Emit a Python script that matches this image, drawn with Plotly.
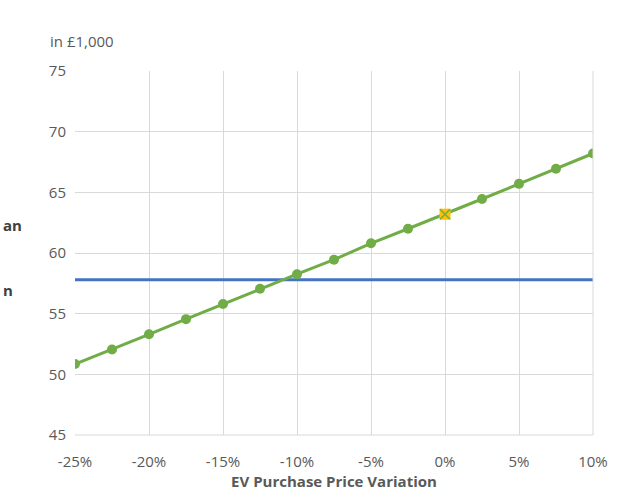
import plotly.graph_objects as go

# EV purchase price variation (%) and resulting cost (in £1,000)
price_variation = [-25, -22.5, -20, -17.5, -15, -12.5, -10, -7.5, -5, -2.5, 0, 2.5, 5, 7.5, 10]
ev_cost = [50.85, 52.05, 53.3, 54.55, 55.8, 57.05, 58.25, 59.45, 60.8, 62.0, 63.2, 64.45, 65.7, 66.95, 68.2]
diesel_cost = 57.8
base_point = 0
x_ticks = [-25, -20, -15, -10, -5, 0, 5, 10]
x_tick_text = ["-25%", "-20%", "-15%", "-10%", "-5%", "0%", "5%", "10%"]
y_ticks = [45, 50, 55, 60, 65, 70, 75]

GREEN = "#70AD47"
BLUE = "#4472C4"
GOLD = "#FFC000"
GRID = "#D9D9D9"
TXT = "#595959"
FONT = "Open Sans"

fig = go.Figure()

# Diesel reference line across the full range
fig.add_trace(go.Scatter(
    x=[price_variation[0], price_variation[-1]], y=[diesel_cost, diesel_cost],
    mode="lines", line=dict(color=BLUE, width=3), showlegend=False, hoverinfo="skip"))

# EV cost curve
fig.add_trace(go.Scatter(
    x=price_variation, y=ev_cost, mode="lines+markers",
    line=dict(color=GREEN, width=3),
    marker=dict(color=GREEN, size=10), showlegend=False))

# Base case highlight
base_idx = price_variation.index(base_point)
fig.add_trace(go.Scatter(
    x=[base_point], y=[ev_cost[base_idx]], mode="markers",
    marker=dict(symbol="square", color=GOLD, size=11, line=dict(color=GOLD, width=0)),
    showlegend=False, hoverinfo="skip"))
fig.add_trace(go.Scatter(
    x=[base_point], y=[ev_cost[base_idx]], mode="markers",
    marker=dict(symbol="x-thin", size=10, line=dict(color=GREEN, width=1.5)),
    showlegend=False, hoverinfo="skip"))

fig.update_layout(
    width=639, height=500,
    margin=dict(l=75, r=46, t=71, b=65),
    paper_bgcolor="white", plot_bgcolor="white",
    font=dict(family=FONT, color=TXT, size=15),
    xaxis=dict(
        range=[-25, 10], tickvals=x_ticks, ticktext=x_tick_text,
        showgrid=True, gridcolor=GRID, gridwidth=1, zeroline=False,
        showline=False, ticks="", tickfont=dict(size=15, color=TXT),
        ticklabelstandoff=16,
        title=dict(text="<b>EV Purchase Price Variation</b>",
                   font=dict(size=15, color=TXT), standoff=6)),
    yaxis=dict(
        range=[45, 75], tickvals=y_ticks,
        showgrid=True, gridcolor=GRID, gridwidth=1, zeroline=False,
        showline=False, ticks="", tickfont=dict(size=15, color=TXT), ticklabelstandoff=8),
    annotations=[
        dict(text="in £1,000", xref="paper", yref="paper", x=-0.052, y=1.05,
             xanchor="left", yanchor="bottom", showarrow=False,
             font=dict(size=15, color=TXT, family=FONT)),
        # side labels at the left edge
        dict(text="<b>an</b>", xref="paper", yref="y", x=(1 - 75) / 518, y=62.3,
             xanchor="left", yanchor="middle", showarrow=False,
             font=dict(size=15, color="#404040", family=FONT)),
        dict(text="<b>n</b>", xref="paper", yref="y", x=(1 - 75) / 518, y=56.95,
             xanchor="left", yanchor="middle", showarrow=False,
             font=dict(size=15, color="#404040", family=FONT)),
    ],
)

fig.add_shape(type="line", xref="paper", yref="paper", x0=0, x1=1, y0=0, y1=0,
              line=dict(color=GRID, width=1))
fig.add_shape(type="line", xref="paper", yref="paper", x0=1, x1=1, y0=0, y1=1,
              line=dict(color=GRID, width=1))

fig.write_html("out.html")
